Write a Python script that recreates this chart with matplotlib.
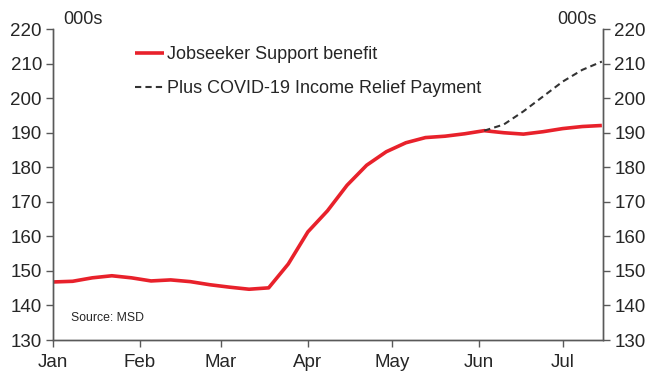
import numpy as np
import matplotlib.pyplot as plt

plt.rcParams['font.family'] = ['Liberation Sans', 'DejaVu Sans']

# недельные данные, дни от 1 января
days = np.arange(29) * 7
jobseeker = [146.8, 147.0, 148.0, 148.6, 148.0, 147.1, 147.4, 146.9, 146.0, 145.3,
             144.7, 145.1, 152.0, 161.3, 167.4, 174.8, 180.6, 184.5, 187.1, 188.6,
             189.0, 189.7, 190.6, 190.0, 189.6, 190.3, 191.2, 191.8, 192.1]
relief_days = days[22:]
relief = [190.6, 192.4, 196.2, 200.5, 204.8, 208.2, 210.6]

month_days = [0, 31, 60, 91, 121, 152, 182]
month_labels = ['Jan', 'Feb', 'Mar', 'Apr', 'May', 'Jun', 'Jul']

fig = plt.figure(figsize=(6.55, 3.78), dpi=100)
ax = fig.add_axes([0.081, 0.1005, 0.84, 0.8225])

ax.plot(days, jobseeker, color='#e8212b', linewidth=2.6, label='Jobseeker Support benefit',
        solid_capstyle='butt')
ax.plot(relief_days, relief, color='#333333', linewidth=1.5, linestyle=(0, (3, 2)),
        label='Plus COVID-19 Income Relief Payment')

ax.set_xlim(0, 196.5)
ax.set_ylim(130, 220)
ax.set_yticks(range(130, 221, 10))
ax.set_xticks(month_days)
ax.set_xticklabels(month_labels)

ax2 = ax.twinx()
ax2.set_ylim(130, 220)
ax2.set_yticks(range(130, 221, 10))

for a in (ax, ax2):
    a.spines['top'].set_visible(False)
    for s in a.spines.values():
        s.set_color('#595959')
        s.set_linewidth(1.0)
    a.tick_params(colors='#595959', labelcolor='#262626', labelsize=13.5, length=5, width=1.0)
ax.tick_params(axis='x', pad=5)
ax.tick_params(axis='y', pad=3)
ax2.tick_params(axis='y', pad=3)

fig.text(0.096, 0.925, '000s', fontsize=13, color='#262626', ha='left', va='bottom')
fig.text(0.911, 0.925, '000s', fontsize=13, color='#262626', ha='right', va='bottom')
ax.text(0.033, 0.06, 'Source: MSD', transform=ax.transAxes, fontsize=8.8, color='#262626')

ax.legend(loc='upper left', bbox_to_anchor=(0.12, 0.998), frameon=False, fontsize=13,
          handlelength=1.6, handletextpad=0.15, labelspacing=0.95, labelcolor='#262626')

fig.savefig('out.png', dpi=100)
